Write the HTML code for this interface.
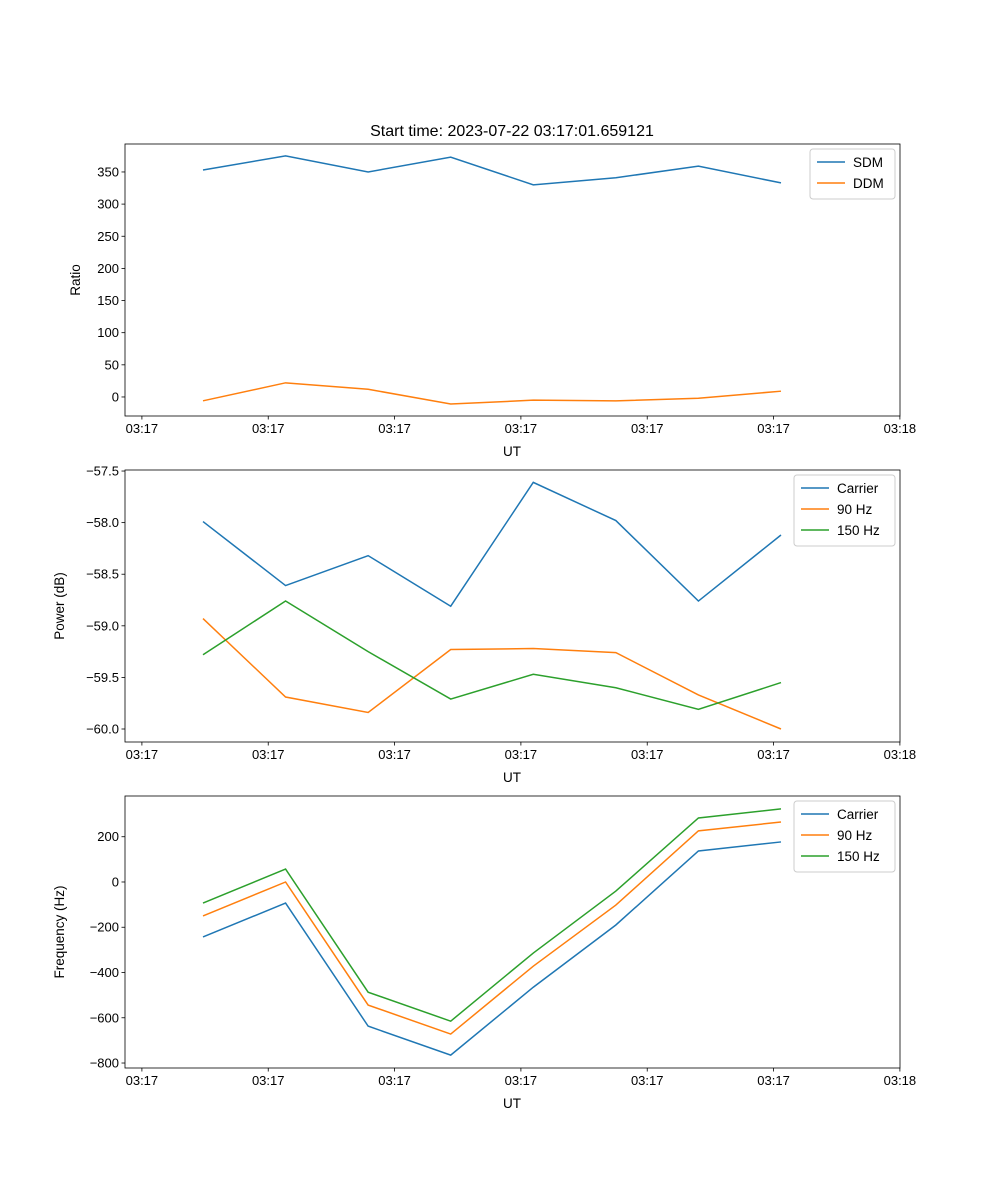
<!DOCTYPE html>
<html><head><meta charset="utf-8"><style>
body{margin:0;background:#fff;}
svg{display:block;font-family:"Liberation Sans","DejaVu Sans",sans-serif;}
</style></head><body>
<svg id="fig" width="1000" height="1200" viewBox="0 0 1000 1200" xmlns="http://www.w3.org/2000/svg">
<rect width="1000" height="1200" fill="#fff"/>
<text x="512" y="136" font-size="16" text-anchor="middle">Start time: 2023-07-22 03:17:01.659121</text>
</svg>
<script>
const timeLabels = ["03:17","03:17","03:17","03:17","03:17","03:17","03:18"];
const sdm = [353,375,350,373,330,341,359,333];
const ddm = [-6,22,12,-11,-5,-6,-2,9];
const powCarrier = [-57.99,-58.61,-58.32,-58.81,-57.61,-57.98,-58.76,-58.12];
const pow90 = [-58.93,-59.69,-59.84,-59.23,-59.22,-59.26,-59.67,-60.0];
const pow150 = [-59.28,-58.76,-59.25,-59.71,-59.47,-59.60,-59.81,-59.55];
const freqCarrier = [-243,-93,-637,-765,-465,-190,137,177];
const freq90 = [-150,0,-544,-672,-372,-102,226,265];
const freq150 = [-93,57,-487,-615,-314,-40,283,323];
const ratioTicks = [0,50,100,150,200,250,300,350];
const powerTicks = [-60.0,-59.5,-59.0,-58.5,-58.0,-57.5];
const freqTicks = [-800,-600,-400,-200,0,200];

const NS="http://www.w3.org/2000/svg";
const svg=document.getElementById('fig');
function mk(tag,attrs,parent){const e=document.createElementNS(NS,tag);for(const k in attrs)e.setAttribute(k,attrs[k]);(parent||svg).appendChild(e);return e;}
const L=125,R=900;
const xs=i=>203+i*82.57;
const tickIdx=i=>-0.74+i*1.53;
const C=["#1f77b4","#ff7f0e","#2ca02c"];

function panel(name,top,bot,ymin,ymax,yticks,fmt,ylabel,series,names,legW){
  const g=mk('g',{});
  
  
  const ys=v=>bot-(v-ymin)/(ymax-ymin)*(bot-top);
  series.forEach((s,k)=>{
    const p=mk('polyline',{points:s.map((v,i)=>xs(i)+','+ys(v)).join(' '),fill:'none',stroke:C[k],'stroke-width':1.5},g);
    
    
  });
  mk('rect',{x:L,y:top,width:R-L,height:bot-top,fill:'none',stroke:'#000','stroke-width':0.8},g);
  timeLabels.forEach((t,i)=>{
    const x=xs(tickIdx(i));
    mk('line',{x1:x,x2:x,y1:bot,y2:bot+3.5,stroke:'#000','stroke-width':0.8},g);
    const tx=mk('text',{x:x,y:bot+17,'font-size':13,'text-anchor':'middle'},g);tx.textContent=t;
    
    
  });
  const xl=mk('text',{x:512,y:bot+40,'font-size':13.5,'text-anchor':'middle'},g);xl.textContent='UT';
  
  
  yticks.forEach(v=>{
    const y=ys(v);
    mk('line',{x1:L-3.5,x2:L,y1:y,y2:y,stroke:'#000','stroke-width':0.8},g);
    const tx=mk('text',{x:L-6,y:y+4.5,'font-size':13,'text-anchor':'end'},g);tx.textContent=fmt(v);
    
    
  });
  const yl=mk('text',{x:0,y:0,'font-size':13.5,'text-anchor':'middle',transform:`translate(${name==='ratio'?80:64},${(top+bot)/2}) rotate(-90)`},g);yl.textContent=ylabel;
  
  
  const lx=R-5-legW, ly=top+5, h=8+names.length*21;
  const lg=mk('g',{},g);
  
  
  mk('rect',{x:lx,y:ly,width:legW,height:h,fill:'#fff',stroke:'#ccc',rx:3},lg);
  names.forEach((n,k)=>{
    const y=ly+13+k*21;
    mk('line',{x1:lx+7,x2:lx+35,y1:y,y2:y,stroke:C[k],'stroke-width':1.5},lg);
    const tx=mk('text',{x:lx+43,y:y+5,'font-size':13.5},lg);tx.textContent=n;
    
    
  });
}
panel('ratio',144,416,-29.6,393.5,ratioTicks,v=>String(v),'Ratio',[sdm,ddm],['SDM','DDM'],85);
panel('power',470,742,-60.126,-57.49,powerTicks,v=>(v<0?'\u2212':'')+Math.abs(v).toFixed(1),'Power (dB)',[powCarrier,pow90,pow150],['Carrier','90 Hz','150 Hz'],101);
panel('frequency',796,1068,-822,380,freqTicks,v=>(v<0?'\u2212':'')+Math.abs(v),'Frequency (Hz)',[freqCarrier,freq90,freq150],['Carrier','90 Hz','150 Hz'],101);
</script>
</body></html>
